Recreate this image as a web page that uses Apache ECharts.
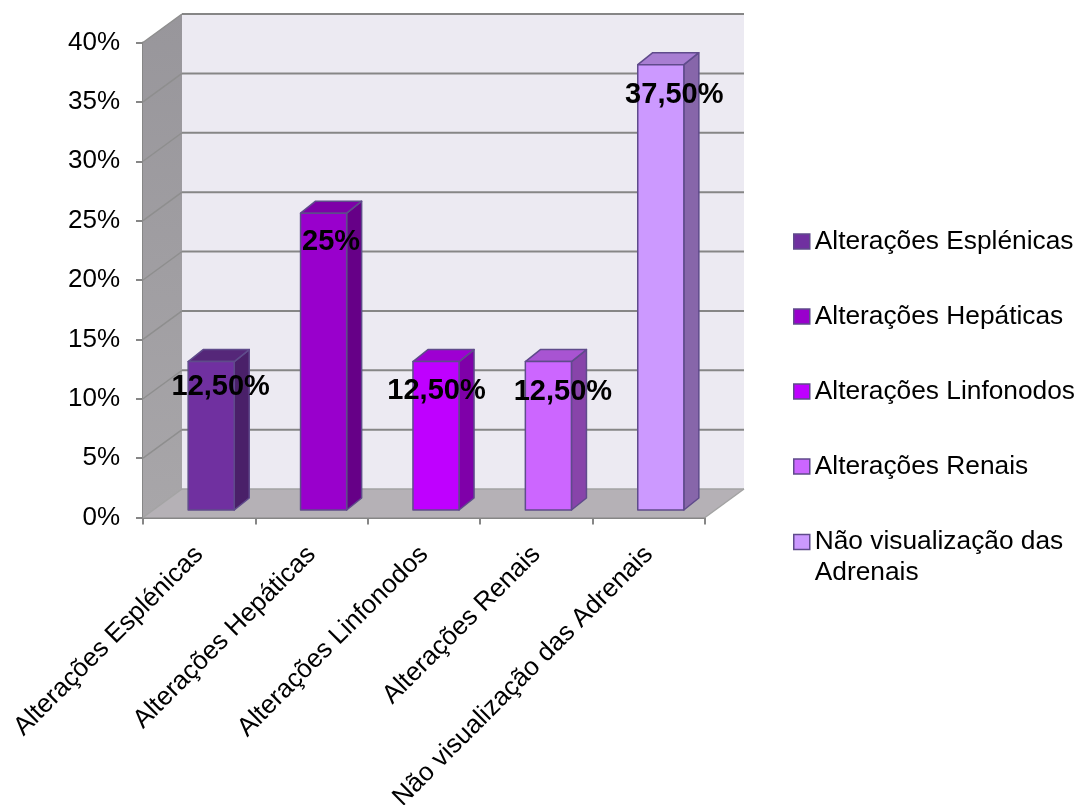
<!DOCTYPE html>
<html><head><meta charset="utf-8">
<style>html,body{margin:0;padding:0;background:#fff}#c{width:1081px;height:805px}</style>
<script src="https://cdn.jsdelivr.net/npm/echarts@6/dist/echarts.min.js"></script>
</head><body><div id="c"></div>
<script>
const categories = ['Alterações Esplénicas','Alterações Hepáticas','Alterações Linfonodos','Alterações Renais','Não visualização das Adrenais'];
const values = [12.5, 25, 12.5, 12.5, 37.5];
const dataLabels = ['12,50%','25%','12,50%','12,50%','37,50%'];
const yTicks = [0,5,10,15,20,25,30,35,40];

const frontColors = ['#7030A0','#9900CC','#BF00FF','#CC66FF','#CC99FF'];
const sideColors  = ['#4A2069','#660087','#7F00A9','#8844AA','#8766AA'];
const topColors   = ['#552779','#7E00A8','#9E00D2','#A854D2','#A87ED2'];
const labelNudge  = [[2,-2],[0,2],[-7,2],[7,3],[6,3]];

const FONT = '"Liberation Sans", Arial, sans-serif';
const EDGE = '#5F4B8B';
const DEPTH_X = 39, DEPTH_Y = 28.5;      // wall depth
const BAR_DX = 12, BAR_DY = 7.5;         // bar placement on the floor
const SIDE_X = 15, SIDE_Y = 12;          // bar depth

const wallsItem = (params, api) => {
  const c = params.coordSys, L = c.x, R = c.x + c.width, T = c.y, B = c.y + c.height;
  return {type:'group', children:[
    {type:'polygon', shape:{points:[[L+DEPTH_X,T-DEPTH_Y],[R+DEPTH_X,T-DEPTH_Y],[R+DEPTH_X,B-DEPTH_Y],[L+DEPTH_X,B-DEPTH_Y]]}, style:{fill:'#ECEAF2'}},
    {type:'polygon', shape:{points:[[L,T],[L+DEPTH_X,T-DEPTH_Y],[L+DEPTH_X,B-DEPTH_Y],[L,B]]},
      style:{fill:{type:'linear',x:0,y:0,x2:0,y2:1,colorStops:[{offset:0,color:'#98969B'},{offset:1,color:'#A8A6A9'}]}}},
    {type:'polygon', shape:{points:[[L,B],[L+DEPTH_X,B-DEPTH_Y],[R+DEPTH_X,B-DEPTH_Y],[R,B]]}, style:{fill:'#B5B1B6'}}
  ]};
};
const gridItem = (params, api) => {
  const c = params.coordSys, L = c.x, R = c.x + c.width;
  const y = api.coord([0, api.value(0)])[1];
  const floor = api.value(0) === 0;
  const kids = [
    {type:'line', shape:{x1:L,y1:y,x2:L+DEPTH_X,y2:y-DEPTH_Y}, style:{stroke:floor?'#A3A3A3':'#8E8E8E',lineWidth:1.5}},
    {type:'line', shape:{x1:L+DEPTH_X,y1:y-DEPTH_Y,x2:R+DEPTH_X,y2:y-DEPTH_Y}, style:{stroke:floor?'#A3A3A3':'#868686',lineWidth:floor?1.5:2}}
  ];
  if (floor) kids.push({type:'line', shape:{x1:R,y1:y,x2:R+DEPTH_X,y2:y-DEPTH_Y}, style:{stroke:'#A3A3A3',lineWidth:1.5}});
  return {type:'group', children:kids};
};
const barItem = i => (params, api) => {
  const base = api.coord([api.value(0), 0]), tip = api.coord([api.value(0), api.value(1)]);
  const w = api.size([1,0])[0] * 0.41;
  const x0 = base[0] + BAR_DX - w/2, x1 = x0 + w, yb = base[1] - BAR_DY, yt = tip[1] - BAR_DY;
  const line = {stroke:EDGE, lineWidth:1.5, lineJoin:'round'};
  const n = labelNudge[i];
  return {type:'group', children:[
    {type:'polygon', shape:{points:[[x1,yb],[x1+SIDE_X,yb-SIDE_Y],[x1+SIDE_X,yt-SIDE_Y],[x1,yt]]}, style:Object.assign({fill:sideColors[i]},line)},
    {type:'polygon', shape:{points:[[x0,yt],[x0+SIDE_X,yt-SIDE_Y],[x1+SIDE_X,yt-SIDE_Y],[x1,yt]]}, style:Object.assign({fill:topColors[i]},line)},
    {type:'rect', shape:{x:x0,y:yt,width:w,height:yb-yt}, style:Object.assign({fill:frontColors[i]},line)},
    {type:'text', z2:50, style:{x:(x0+x1)/2+SIDE_X/2+n[0], y:yt+n[1]+27, text:dataLabels[i], fill:'#000', font:'bold 29px '+FONT, align:'center', verticalAlign:'middle'}}
  ]};
};

const chart = echarts.init(document.getElementById('c'), null, {renderer:'canvas'});
const legendBase = {
  orient:'vertical', left:793, icon:'rect', itemWidth:16, itemHeight:15,
  selectedMode:false, padding:0,
  itemStyle:{borderWidth:1.5},
  textStyle:{fontFamily:FONT,fontSize:26.3,color:'#000',lineHeight:31}
};
chart.setOption({
  animation:false,
  backgroundColor:'#fff',
  grid:{left:143,top:42.5,width:562,height:475,containLabel:false,outerBoundsMode:'none'},
  legend:[
    Object.assign({},legendBase,{top:226,itemGap:44,data:categories.slice(0,4)}),
    Object.assign({},legendBase,{top:495.5,data:[categories[4]],
      formatter:()=>'\nNão visualização das\nAdrenais'})
  ],
  xAxis:{type:'category',data:categories,
    axisLine:{lineStyle:{color:'#868686',width:2}},
    axisTick:{show:true,length:7,lineStyle:{color:'#868686',width:2}},
    axisLabel:{interval:0,rotate:45,margin:33,color:'#000',fontFamily:FONT,fontSize:26}},
  yAxis:{type:'value',min:0,max:40,interval:5,
    axisLine:{show:true,lineStyle:{color:'#868686',width:2}},
    axisTick:{show:true,length:7,lineStyle:{color:'#868686',width:2}},
    splitLine:{show:false},
    axisLabel:{formatter:'{value}%',margin:23,color:'#000',fontFamily:FONT,fontSize:26}},
  series:[
    {type:'custom',name:'walls',silent:true,z:1,data:[[0]],renderItem:wallsItem},
    {type:'custom',name:'grid',silent:true,z:1,data:yTicks.map(t=>[t]),renderItem:gridItem,encode:{y:0}}
  ].concat(categories.map((name,i)=>({
    type:'custom',name,z:3+i,itemStyle:{color:frontColors[i],borderColor:EDGE,borderWidth:1.5},
    data:[[i,values[i]]],encode:{x:0,y:1},renderItem:barItem(i)
  })))
});
</script></body></html>
